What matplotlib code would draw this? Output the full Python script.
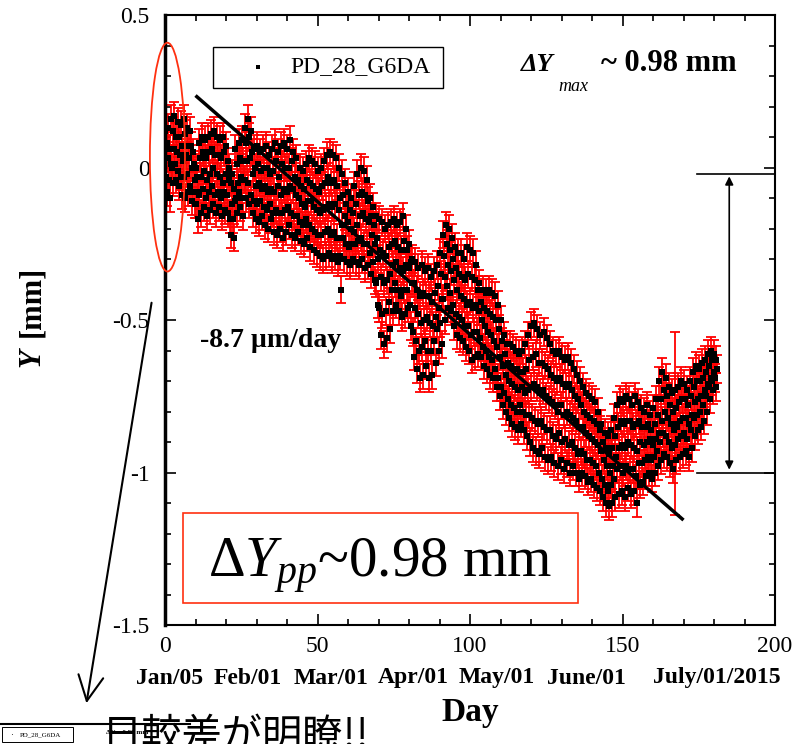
import numpy as np
import matplotlib.pyplot as plt
from matplotlib.patches import Ellipse, Rectangle, FancyArrowPatch

plt.rcParams['font.family'] = ['Liberation Serif', 'DejaVu Serif']
plt.rcParams['mathtext.fontset'] = 'custom'
plt.rcParams['mathtext.rm'] = 'Liberation Serif'
plt.rcParams['mathtext.it'] = 'Liberation Serif:italic'
plt.rcParams['mathtext.bf'] = 'Liberation Serif:bold'
plt.rcParams['axes.unicode_minus'] = False

# ------------------------------
# data
# ------------------------------
day = np.arange(0, 181)

# daily readings of Y [mm]: top, upper, middle, lower, bottom of the band
y_hi = [
    0.12, 0.13, 0.16, 0.17, 0.15, 0.14, 0.16, 0.13, 0.12, 0.05,
    0.00, 0.08, 0.10, 0.09, 0.10, 0.11, 0.12, 0.10, 0.09, 0.10,
    0.07, 0.00, -0.02, 0.06, 0.08, 0.09, 0.13, 0.16, 0.12, 0.06,
    0.07, 0.05, 0.06, 0.07, 0.04, 0.06, 0.08, 0.05, 0.07, 0.08,
    0.06, 0.09, 0.05, 0.03, 0.00, -0.01, 0.01, 0.03, 0.02, 0.01,
    -0.01, 0.00, 0.02, 0.04, 0.05, 0.04, 0.03, 0.00, -0.02, -0.05,
    -0.08, -0.10, -0.06, -0.02, 0.00, -0.01, -0.04, -0.10, -0.13, -0.16,
    -0.17, -0.18, -0.20, -0.19, -0.18, -0.17, -0.19, -0.18, -0.16, -0.20,
    -0.25, -0.30, -0.31, -0.33, -0.32, -0.34, -0.33, -0.36, -0.34, -0.32,
    -0.28, -0.22, -0.19, -0.20, -0.23, -0.26, -0.28, -0.28, -0.30, -0.26,
    -0.27, -0.28, -0.32, -0.38, -0.40, -0.41, -0.40, -0.41, -0.42, -0.45,
    -0.50, -0.55, -0.58, -0.58, -0.59, -0.60, -0.61, -0.60, -0.58, -0.55,
    -0.52, -0.51, -0.53, -0.55, -0.54, -0.56, -0.58, -0.60, -0.61, -0.60,
    -0.62, -0.63, -0.62, -0.64, -0.66, -0.68, -0.70, -0.72, -0.74, -0.75,
    -0.76, -0.77, -0.80, -0.84, -0.87, -0.88, -0.86, -0.82, -0.78, -0.76,
    -0.77, -0.75, -0.76, -0.78, -0.75, -0.77, -0.79, -0.80, -0.78, -0.81,
    -0.79, -0.76, -0.70, -0.67, -0.69, -0.72, -0.74, -0.73, -0.72, -0.70,
    -0.71, -0.73, -0.70, -0.67, -0.65, -0.66, -0.64, -0.63, -0.61, -0.60,
    -0.61,
]
y_uq = [
    0.08, 0.06, 0.12, 0.10, 0.10, 0.07, 0.11, 0.07, 0.07, 0.01,
    -0.03, 0.03, 0.05, 0.03, 0.05, 0.06, 0.04, 0.04, 0.03, 0.05,
    0.02, -0.05, -0.07, 0.01, 0.03, 0.02, 0.08, 0.10, 0.05, 0.00,
    0.01, -0.01, 0.00, 0.00, -0.02, -0.01, 0.02, -0.03, 0.01, 0.00,
    0.00, 0.02, -0.03, -0.04, -0.06, -0.07, -0.04, -0.05, -0.06, -0.07,
    -0.08, -0.06, -0.05, -0.03, -0.05, -0.04, -0.06, -0.10, -0.09, -0.12,
    -0.14, -0.15, -0.12, -0.09, -0.08, -0.09, -0.11, -0.16, -0.19, -0.23,
    -0.27, -0.28, -0.29, -0.26, -0.25, -0.24, -0.26, -0.27, -0.24, -0.27,
    -0.31, -0.38, -0.40, -0.42, -0.41, -0.42, -0.42, -0.44, -0.41, -0.39,
    -0.35, -0.29, -0.25, -0.27, -0.30, -0.33, -0.35, -0.36, -0.37, -0.35,
    -0.36, -0.37, -0.40, -0.44, -0.46, -0.47, -0.48, -0.49, -0.50, -0.53,
    -0.57, -0.61, -0.64, -0.65, -0.66, -0.66, -0.67, -0.67, -0.66, -0.63,
    -0.62, -0.61, -0.64, -0.64, -0.65, -0.66, -0.68, -0.69, -0.70, -0.69,
    -0.71, -0.72, -0.71, -0.73, -0.75, -0.76, -0.78, -0.80, -0.81, -0.82,
    -0.83, -0.84, -0.86, -0.90, -0.92, -0.94, -0.92, -0.88, -0.85, -0.83,
    -0.84, -0.83, -0.83, -0.85, -0.84, -0.83, -0.85, -0.85, -0.84, -0.86,
    -0.84, -0.81, -0.76, -0.73, -0.75, -0.78, -0.80, -0.79, -0.77, -0.76,
    -0.76, -0.78, -0.75, -0.72, -0.70, -0.70, -0.69, -0.67, -0.65, -0.63,
    -0.63,
]
y_mid = [
    0.03, 0.01, 0.06, 0.05, 0.04, 0.02, 0.04, 0.03, 0.00, -0.04,
    -0.08, -0.03, -0.01, -0.04, -0.02, 0.00, -0.02, -0.03, -0.05, -0.02,
    -0.04, -0.12, -0.11, -0.05, -0.03, -0.04, 0.02, 0.03, -0.02, -0.06,
    -0.05, -0.07, -0.06, -0.08, -0.07, -0.08, -0.06, -0.09, -0.07, -0.08,
    -0.06, -0.07, -0.09, -0.10, -0.12, -0.13, -0.11, -0.11, -0.13, -0.14,
    -0.15, -0.14, -0.13, -0.12, -0.13, -0.12, -0.14, -0.19, -0.16, -0.18,
    -0.20, -0.21, -0.19, -0.16, -0.15, -0.17, -0.18, -0.22, -0.25, -0.30,
    -0.36, -0.38, -0.37, -0.35, -0.32, -0.31, -0.33, -0.34, -0.32, -0.33,
    -0.38, -0.46, -0.48, -0.51, -0.50, -0.49, -0.51, -0.52, -0.49, -0.46,
    -0.43, -0.36, -0.32, -0.34, -0.37, -0.40, -0.42, -0.43, -0.45, -0.44,
    -0.46, -0.45, -0.47, -0.50, -0.52, -0.54, -0.55, -0.57, -0.59, -0.62,
    -0.65, -0.68, -0.70, -0.71, -0.72, -0.73, -0.72, -0.74, -0.73, -0.72,
    -0.71, -0.72, -0.74, -0.73, -0.75, -0.76, -0.77, -0.78, -0.80, -0.78,
    -0.81, -0.80, -0.81, -0.82, -0.83, -0.85, -0.85, -0.87, -0.88, -0.89,
    -0.90, -0.91, -0.93, -0.96, -0.98, -1.00, -0.98, -0.95, -0.92, -0.91,
    -0.92, -0.90, -0.91, -0.92, -0.93, -0.90, -0.91, -0.90, -0.89, -0.91,
    -0.89, -0.87, -0.83, -0.80, -0.82, -0.84, -0.86, -0.85, -0.83, -0.82,
    -0.82, -0.84, -0.81, -0.77, -0.76, -0.75, -0.73, -0.71, -0.69, -0.67,
    -0.66,
]
y_lq = [
    -0.03, -0.04, 0.00, 0.01, -0.01, -0.03, -0.03, -0.02, -0.06, -0.08,
    -0.12, -0.09, -0.07, -0.10, -0.08, -0.06, -0.09, -0.08, -0.10, -0.08,
    -0.09, -0.17, -0.17, -0.10, -0.08, -0.10, -0.04, -0.05, -0.09, -0.11,
    -0.12, -0.11, -0.13, -0.14, -0.12, -0.15, -0.14, -0.15, -0.15, -0.14,
    -0.13, -0.15, -0.16, -0.16, -0.18, -0.19, -0.17, -0.19, -0.20, -0.21,
    -0.22, -0.22, -0.21, -0.20, -0.22, -0.21, -0.23, -0.29, -0.23, -0.25,
    -0.26, -0.25, -0.25, -0.24, -0.23, -0.25, -0.25, -0.28, -0.31, -0.38,
    -0.46, -0.48, -0.47, -0.44, -0.40, -0.38, -0.40, -0.42, -0.40, -0.40,
    -0.45, -0.54, -0.57, -0.60, -0.59, -0.57, -0.60, -0.60, -0.57, -0.53,
    -0.51, -0.43, -0.39, -0.41, -0.45, -0.48, -0.49, -0.50, -0.52, -0.52,
    -0.55, -0.54, -0.54, -0.56, -0.59, -0.60, -0.62, -0.63, -0.66, -0.69,
    -0.72, -0.74, -0.76, -0.78, -0.79, -0.80, -0.78, -0.80, -0.81, -0.81,
    -0.82, -0.83, -0.84, -0.83, -0.85, -0.86, -0.86, -0.88, -0.89, -0.87,
    -0.90, -0.89, -0.91, -0.90, -0.92, -0.94, -0.93, -0.94, -0.96, -0.96,
    -0.97, -0.98, -1.00, -1.02, -1.04, -1.06, -1.04, -1.02, -0.99, -0.98,
    -1.00, -0.98, -0.99, -0.99, -1.01, -0.97, -0.97, -0.96, -0.95, -0.96,
    -0.95, -0.93, -0.90, -0.87, -0.88, -0.90, -0.92, -0.91, -0.89, -0.88,
    -0.87, -0.89, -0.86, -0.82, -0.81, -0.80, -0.78, -0.75, -0.72, -0.70,
    -0.69,
]
y_lo = [
    -0.08, -0.10, -0.05, -0.04, -0.06, -0.09, -0.10, -0.08, -0.11, -0.12,
    -0.17, -0.15, -0.13, -0.16, -0.14, -0.12, -0.15, -0.13, -0.16, -0.14,
    -0.15, -0.22, -0.23, -0.15, -0.13, -0.16, -0.10, -0.12, -0.15, -0.17,
    -0.18, -0.16, -0.19, -0.20, -0.17, -0.21, -0.22, -0.20, -0.23, -0.21,
    -0.19, -0.22, -0.23, -0.21, -0.24, -0.25, -0.23, -0.26, -0.27, -0.28,
    -0.29, -0.30, -0.29, -0.28, -0.30, -0.29, -0.31, -0.40, -0.30, -0.31,
    -0.32, -0.30, -0.31, -0.32, -0.30, -0.33, -0.32, -0.35, -0.37, -0.45,
    -0.55, -0.58, -0.56, -0.53, -0.47, -0.45, -0.47, -0.49, -0.48, -0.46,
    -0.52, -0.62, -0.66, -0.69, -0.68, -0.65, -0.69, -0.68, -0.64, -0.60,
    -0.58, -0.50, -0.46, -0.47, -0.52, -0.55, -0.56, -0.57, -0.59, -0.60,
    -0.63, -0.62, -0.61, -0.62, -0.65, -0.66, -0.68, -0.69, -0.72, -0.75,
    -0.78, -0.80, -0.82, -0.84, -0.85, -0.86, -0.84, -0.86, -0.88, -0.90,
    -0.92, -0.93, -0.94, -0.92, -0.95, -0.96, -0.95, -0.97, -0.98, -0.96,
    -0.99, -0.97, -1.00, -0.98, -1.00, -1.02, -1.00, -1.01, -1.03, -1.02,
    -1.04, -1.05, -1.06, -1.08, -1.10, -1.11, -1.10, -1.08, -1.07, -1.06,
    -1.08, -1.05, -1.07, -1.06, -1.10, -1.04, -1.03, -1.01, -1.00, -1.02,
    -1.00, -0.98, -0.96, -0.94, -0.95, -0.97, -0.99, -0.96, -0.95, -0.94,
    -0.93, -0.95, -0.92, -0.88, -0.86, -0.85, -0.83, -0.80, -0.76, -0.73,
    -0.72,
]
y_err = 0.045

# one odd reading with a large error
odd_day = [167.3]
odd_y = [-0.84]
odd_err = [0.30]

# linear fit
fit_slope = -0.0087     # mm/day  (-8.7 um/day)
fit_icept = 0.323
fit_range = [10, 170]

# peak-to-peak levels
dy_top = -0.02
dy_bot = -1.00

x_ticks = [0, 50, 100, 150, 200]
y_ticks = [-1.5, -1.0, -0.5, 0.0, 0.5]
y_tick_labels = ['-1.5', '-1', '-0.5', '0', '0.5']
date_labels = ['Jan/05', 'Feb/01', 'Mar/01', 'Apr/01', 'May/01', 'June/01', 'July/01/2015']
date_px = [170, 248, 331, 413, 497, 586, 717]

# ------------------------------
# figure
# ------------------------------
W, H = 800, 744


def fx(px):
    return px / W


def fy(py):
    return 1 - py / H


fig = plt.figure(figsize=(W / 100, H / 100), dpi=100)
ax = fig.add_axes([fx(165), fy(625), 610 / W, 610 / H])

# readings spread over the day
series = [(0.1, y_hi), (0.3, y_lq), (0.5, y_uq), (0.7, y_lo), (0.9, y_mid)]
for t_off, ys in series:
    ax.errorbar(day + t_off, ys, yerr=y_err, fmt='none', ecolor='red',
                elinewidth=1.3, capsize=3.5, capthick=1.3, zorder=2)
ax.errorbar(odd_day, odd_y, yerr=odd_err, fmt='none', ecolor='red',
            elinewidth=1.3, capsize=3.5, capthick=1.3, zorder=2)
for t_off, ys in series:
    ax.plot(day + t_off, ys, 's', color='black', ms=3.8, mew=0, zorder=3)
ax.plot(odd_day, odd_y, 's', color='black', ms=3.8, mew=0, zorder=3)

t_fit = np.array(fit_range)
ax.plot(t_fit, fit_icept + fit_slope * t_fit, color='black', lw=2.5,
        solid_capstyle='butt', zorder=4)

ax.set_xlim(0, 200)
ax.set_ylim(-1.5, 0.5)
ax.set_xticks(x_ticks)
ax.set_xticks(np.arange(0, 201, 10), minor=True)
ax.set_yticks(y_ticks, labels=y_tick_labels)
ax.set_yticks(np.arange(-1.5, 0.51, 0.1), minor=True)
ax.tick_params(which='both', direction='in', top=True, right=True,
               labelsize=17, width=1.2)
ax.tick_params(which='major', length=8)
ax.tick_params(which='minor', length=4.5)
ax.tick_params(axis='x', pad=8)
ax.tick_params(axis='y', pad=11)
for s in ax.spines.values():
    s.set_linewidth(1.5)
ax.spines['left'].set_linewidth(2.5)

# peak-to-peak marker on the right
ax.plot([174.5, 200], [dy_top, dy_top], color='black', lw=1.2)
ax.plot([174.5, 200], [dy_bot, dy_bot], color='black', lw=1.2)
ax.annotate('', xy=(185, dy_top), xytext=(185, dy_bot),
            arrowprops=dict(arrowstyle='<|-|>', color='black', lw=1.2,
                            mutation_scale=12, shrinkA=2, shrinkB=2))

# red ellipse around the first days
ax.add_patch(Ellipse((0.8, 0.034), 11.5, 0.75, fill=False, ec='#ff3010',
                     lw=1.3, clip_on=False, zorder=6))

# legend box
fig.patches.append(Rectangle((fx(213), fy(88)), 230 / W, 41 / H, fill=True,
                             fc='white', ec='black', lw=1,
                             transform=fig.transFigure, zorder=5))
fig.lines.append(plt.Line2D([fx(258)], [fy(67)], marker='s', ms=2.5, mew=0,
                            color='black', transform=fig.transFigure, zorder=6))
fig.text(fx(290), fy(67), 'PD_28_G6DA', fontsize=17, va='center', zorder=6)

# delta Y max label
fig.text(fx(521), fy(71), 'ΔY', fontsize=19, fontweight='bold',
         fontstyle='italic', va='baseline')
fig.text(fx(558), fy(91), 'max', fontsize=13, fontstyle='italic', va='baseline')
fig.text(fx(601), fy(71), '~ 0.98 mm', fontsize=22, fontweight='bold',
         va='baseline')

fig.text(fx(200), fy(341), '-8.7 µm/day', fontsize=20, fontweight='bold',
         va='center')

# red box with peak-to-peak value
fig.patches.append(Rectangle((fx(183), fy(603)), 395 / W, 90 / H, fill=True,
                             fc='white', ec='#ff3010', lw=1.2,
                             transform=fig.transFigure, zorder=5))
fig.text(fx(380), fy(566), r'$\Delta Y_{pp}$~0.98 mm', fontsize=41,
         ha='center', va='center', zorder=6)

# axis titles and date row
for lab, px in zip(date_labels, date_px):
    fig.text(fx(px), fy(678), lab, fontsize=17, fontweight='bold',
             ha='center', va='center')
fig.text(fx(470), fy(712), 'Day', fontsize=24, fontweight='bold',
         ha='center', va='center')
fig.text(fx(32), fy(358), 'Y', fontsize=22, fontweight='bold',
         fontstyle='italic', rotation=90, ha='center', va='center')
fig.text(fx(32), fy(301), '[mm]', fontsize=22, fontweight='bold',
         rotation=90, ha='center', va='center')

# long pointer arrow down to the lower picture
fig.patches.append(FancyArrowPatch(
    (fx(152), fy(300)), (fx(86), fy(706)), transform=fig.transFigure,
    arrowstyle='->,head_length=0.9,head_width=0.45', mutation_scale=20,
    lw=1.5, color='black'))

# cropped strip of the next picture at the bottom edge
fig.lines.append(plt.Line2D([fx(0), fx(190)], [fy(724), fy(724)], lw=1.5,
                            color='black', transform=fig.transFigure))
fig.patches.append(Rectangle((fx(2), fy(742)), 71 / W, 15 / H, fill=False,
                             ec='black', lw=0.7, transform=fig.transFigure))
fig.text(fx(10), fy(735), '·', fontsize=6, va='center')
fig.text(fx(20), fy(735), 'PD_28_G6DA', fontsize=5, va='center')
fig.text(fx(106), fy(733), 'ΔY ~ 0.98 mm', fontsize=5, fontweight='bold',
         va='center')
fig.text(fx(102), fy(716), '日較差が明瞭!!', fontsize=29, va='top',
         family=['Noto Sans CJK JP', 'DejaVu Sans'], zorder=7)

fig.savefig('out.png', dpi=100)
